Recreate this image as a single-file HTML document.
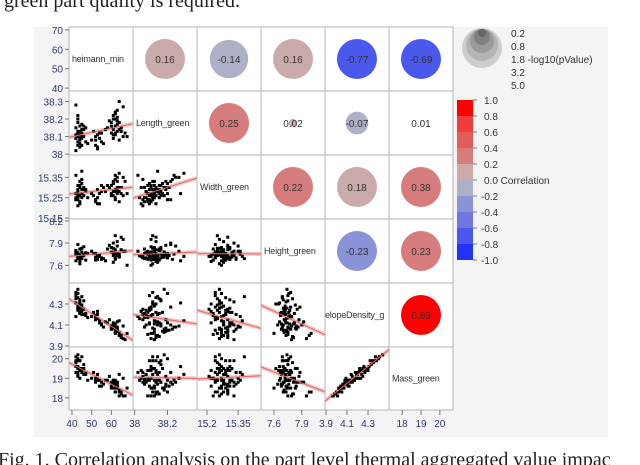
<!DOCTYPE html>
<html><head><meta charset="utf-8"><style>
body{margin:0;background:#fff;}
svg{display:block;font-family:"Liberation Sans",sans-serif;}
</style></head><body>
<svg id="chart" width="640" height="465" viewBox="0 0 640 465">
<text x="4" y="7" font-family="Liberation Serif" font-size="20" fill="#222">green part quality is required.</text>
<rect x="34" y="27" width="574" height="410" fill="#f4f4f4"/>
<g id="cells"></g>
<g id="pts"></g>
<g id="axes"></g>
<g id="legend"></g>
<text x="-2" y="466" font-family="Liberation Serif" font-size="20" fill="#222">Fig. 1. Correlation analysis on the part level thermal aggregated value impac</text>
</svg>
<script>
const varNames = ["heimann_min","Length_green","Width_green","Height_green","elopeDensity_g","Mass_green"];
const heimann = [43,44,42,45,43,46,44,42,43,45,44,43,47,45,42,44,43,46,44,45,50,52,53,54,51,55,53,52,56,54,58,60,61,62,63,64,62,61,63,65,64,62,63,60,66,62,61,64,63,65,43,44,45,42,48,57,59,67,68,53,44,43,62,63,64,61,45,46,52,55,63,62,44,43,65,66,42,47,60,61];
const lengthG = [38.12,38.08,38.15,38.05,38.20,38.10,38.13,38.02,38.18,38.09,38.11,38.22,38.07,38.14,38.28,38.06,38.10,38.16,38.04,38.12,38.08,38.05,38.11,38.09,38.13,38.07,38.03,38.10,38.06,38.12,38.15,38.18,38.22,38.12,38.25,38.14,38.20,38.09,38.17,38.13,38.30,38.11,38.19,38.16,38.10,38.23,38.14,38.08,38.21,38.15,38.13,38.09,38.17,38.11,38.06,38.14,38.19,38.12,38.10,38.04,38.16,38.07,38.24,38.13,38.18,38.11,38.10,38.14,38.08,38.12,38.19,38.16,38.11,38.05,38.13,38.27,38.09,38.15,38.12,38.20];
const widthG = [15.28,15.31,15.25,15.34,15.27,15.30,15.22,15.36,15.26,15.29,15.33,15.24,15.28,15.38,15.27,15.23,15.31,15.26,15.30,15.25,15.27,15.24,15.29,15.22,15.26,15.28,15.25,15.23,15.30,15.27,15.31,15.26,15.33,15.29,15.35,15.28,15.24,15.32,15.27,15.30,15.37,15.25,15.29,15.31,15.26,15.34,15.28,15.23,15.30,15.27,15.29,15.26,15.32,15.24,15.25,15.28,15.30,15.33,15.27,15.22,15.31,15.25,15.36,15.28,15.30,15.26,15.27,15.29,15.24,15.31,15.33,15.28,15.26,15.21,15.30,15.35,15.24,15.29,15.27,15.32];
const heightG = [7.72,7.68,7.80,7.70,7.76,7.85,7.65,7.79,7.74,7.71,7.73,7.88,7.77,7.69,7.66,7.82,7.70,7.75,7.72,7.83,7.79,7.71,7.68,7.74,7.76,7.70,7.73,7.67,7.69,7.72,7.82,7.78,7.90,7.75,7.86,7.73,7.70,7.77,7.74,7.81,7.72,8.00,7.76,7.84,7.95,7.68,7.64,7.75,7.73,7.80,7.69,7.74,7.71,7.78,7.76,7.66,7.87,7.79,7.60,7.72,7.70,7.77,7.75,7.92,7.71,7.83,7.78,7.73,7.76,7.68,7.74,7.81,7.62,7.72,7.98,7.79,7.75,7.67,7.84,7.73];
const densityG = [4.28,4.22,4.35,4.20,4.40,4.25,4.30,4.18,4.44,4.24,4.32,4.27,4.19,4.37,4.31,4.21,4.26,4.33,4.23,4.29,4.18,4.15,4.20,4.12,4.22,4.10,4.16,4.19,4.08,4.14,4.12,4.06,4.10,4.03,4.08,4.00,4.05,4.11,4.04,3.98,4.14,4.02,4.07,4.09,3.97,4.06,4.10,4.01,4.05,3.99,4.36,4.26,4.22,4.41,4.17,4.13,4.15,3.96,4.02,4.23,4.34,4.24,4.08,4.13,4.03,4.07,4.27,4.20,4.17,4.11,4.04,4.11,4.30,4.25,4.00,4.09,4.38,4.21,4.06,4.12];
const massG = [19.5,19.4,19.8,19.3,20.0,19.5,19.4,19.3,20.2,19.4,19.9,19.3,19.2,20.1,19.6,19.0,19.6,19.7,19.4,19.5,19.0,18.8,19.2,18.6,19.3,18.8,18.9,19.0,18.7,18.9,18.9,18.5,18.8,18.5,18.8,18.3,18.3,18.9,18.5,18.2,19.2,18.3,18.7,18.8,18.1,18.7,18.7,18.1,18.6,18.2,19.9,19.4,19.5,20.1,18.9,18.9,19.1,18.1,18.5,19.0,19.9,19.2,18.9,18.8,18.4,18.5,19.4,19.2,18.9,18.6,18.6,18.8,19.5,19.1,18.3,19.0,19.9,19.3,18.6,18.9];
// upper-triangle correlations, row-major (i<j)
const corrValues = [0.16,-0.14,0.16,-0.77,-0.69, 0.25,0.02,-0.07,0.01, 0.22,0.18,0.38, -0.23,0.23, 0.89];
const corrLogP = [5.0,4.6,5.0,5.0,5.0, 5.0,0.2,1.6,0.0, 5.0,5.0,5.0, 5.0,5.0, 5.0];
const xTicks = [[40,50,60],[38,38.2],[15.2,15.35],[7.6,7.9],[3.9,4.1,4.3],[18,19,20]];
const yTicks = [[70,60,50,40],[38.3,38.2,38.1,38],[15.35,15.25,15.15],[8.2,7.9,7.6],[4.3,4.1,3.9],[20,19,18]];
const sizeLegend = ["0.2","0.8","1.8","3.2","5.0"];
const colorLegend = ["1.0","0.8","0.6","0.4","0.2","0.0","-0.2","-0.4","-0.6","-0.8","-1.0"];

const data = [heimann,lengthG,widthG,heightG,densityG,massG];
const colX = [69,133,197,261,325,389,453];
const rowY = [27,91,155,219,283,347,410];
const xDom = [[38.5,71],[37.99,38.38],[15.152,15.46],[7.46,8.15],[3.89,4.5],[17.3,20.7]];
const yDom = [[38.5,71.5],[37.995,38.36],[15.145,15.46],[7.36,8.226],[3.89,4.5],[17.38,20.6]];
const NS="http://www.w3.org/2000/svg";
function mk(tag,attrs,parent){const e=document.createElementNS(NS,tag);for(const k in attrs)e.setAttribute(k,attrs[k]);parent.appendChild(e);return e;}
function sx(k,v){const d=xDom[k];return colX[k]+(v-d[0])/(d[1]-d[0])*(colX[k+1]-colX[k]);}
function sy(k,v){const d=yDom[k];return rowY[k+1]-(v-d[0])/(d[1]-d[0])*(rowY[k+1]-rowY[k]);}
const binColors=["#2233ff","#4a58ee","#6e78e0","#8a93d8","#aeb0c8","#cbaaaa","#d67c7c","#e35c5c","#f03c3c","#ff0000"];
function corrColor(r){let i=Math.floor((r+1)/0.2);if(i>9)i=9;if(i<0)i=0;return binColors[i];}

const cells=document.getElementById('cells'),pts=document.getElementById('pts'),axes=document.getElementById('axes'),leg=document.getElementById('legend');
let ci=0;
for(let i=0;i<6;i++){for(let j=0;j<6;j++){
  const x0=colX[j],y0=rowY[i],w=colX[j+1]-colX[j],h=rowY[i+1]-rowY[i];
  const c=mk('rect',{x:x0,y:y0,width:w,height:h,fill:'#fff',stroke:'#b4b4b4','stroke-width':1},cells);
  
  
  if(i===j){
    const t=mk('text',{x:x0+(i===4?0:3),y:y0+h/2+3,'font-size':9,fill:'#333','letter-spacing':'-0.2'},cells);
    t.textContent=varNames[i];
    
    
  } else if(j>i){
    const r=corrValues[ci],lp=corrLogP[ci];ci++;
    const rad=20*Math.sqrt(lp/5);
    if(rad>0.5){const circ=mk('circle',{cx:x0+w/2,cy:y0+h/2,r:rad,fill:corrColor(r)},cells);
      
      }
    const t=mk('text',{x:x0+w/2,y:y0+h/2+4,'font-size':10,'text-anchor':'middle',fill:'#333'},cells);
    t.textContent=r.toFixed(2);
    
    
  } else {
    const X=data[j],Y=data[i],n=X.length;
    const g=mk('g',{},pts);
    
    
    const cp=mk('clipPath',{id:'cp'+i+'_'+j},g);
    mk('rect',{x:x0,y:y0,width:w,height:h},cp);
    const gg=mk('g',{'clip-path':'url(#cp'+i+'_'+j+')'},g);
    let mx=0,my=0;for(let k=0;k<n;k++){mx+=X[k];my+=Y[k];}mx/=n;my/=n;
    let sxy=0,sxx=0;for(let k=0;k<n;k++){sxy+=(X[k]-mx)*(Y[k]-my);sxx+=(X[k]-mx)**2;}
    const b=sxy/sxx,a=my-b*mx;
    const xa=xDom[j][0],xb=xDom[j][1];
    const band=mk('line',{x1:sx(j,xa),y1:sy(i,a+b*xa),x2:sx(j,xb),y2:sy(i,a+b*xb),stroke:'#f4c4c4','stroke-width':4},gg);
    
    
    for(let k=0;k<n;k++){
      const p=mk('rect',{x:sx(j,X[k])-1.5,y:sy(i,Y[k])-1.5,width:3,height:3,fill:'#000'},gg);
      
      
    }
    const fl=mk('line',{x1:sx(j,xa),y1:sy(i,a+b*xa),x2:sx(j,xb),y2:sy(i,a+b*xb),stroke:'#e06a6a','stroke-width':1},gg);
    
    
  }
}}
for(let k=0;k<6;k++){
  for(const v of yTicks[k]){const y=sy(k,v);
    mk('line',{x1:65,y1:y,x2:69,y2:y,stroke:'#777'},axes);
    const t=mk('text',{x:63,y:y+4,'font-size':10,'text-anchor':'end',fill:'#2d3a66'},axes);t.textContent=String(v);
    
    }
  for(const v of xTicks[k]){const x=sx(k,v);
    mk('line',{x1:x,y1:410,x2:x,y2:415,stroke:'#777'},axes);
    const t=mk('text',{x:x,y:427,'font-size':10,'text-anchor':'middle',fill:'#2d3a66'},axes);t.textContent=String(v);
    
    }
}
const legR=[20,16,12,8,4],legC=['#cdcdcd','#b4b4b4','#9a9a9a','#808080','#666'];
for(let k=0;k<5;k++){const c=mk('circle',{cx:482,cy:28+legR[k]+(k>0?1:0),r:legR[k],fill:legC[k]},leg);
  
  }
sizeLegend.forEach((s,k)=>{const t=mk('text',{x:511,y:37+k*13,'font-size':10,fill:'#333'},leg);t.textContent=s+(k===2?' -log10(pValue)':'');
  
  });
for(let k=0;k<10;k++){const r=mk('rect',{x:457,y:100+k*16,width:16,height:16,fill:binColors[9-k]},leg);
  
  }
colorLegend.forEach((s,k)=>{const y=100+k*16;mk('line',{x1:473,y1:y,x2:477,y2:y,stroke:'#777'},leg);
  const t=mk('text',{x:s[0]==='-'?481:484,y:y+4,'font-size':10,fill:'#333'},leg);t.textContent=s+(s==='0.0'?' Correlation':'');
  
  });
</script>
</body></html>
